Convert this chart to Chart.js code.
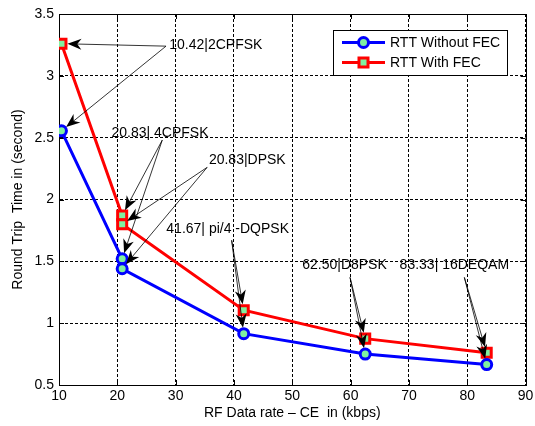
<!DOCTYPE html>
<html>
<head>
<meta charset="utf-8">
<script src="https://cdn.jsdelivr.net/npm/chart.js@4"></script>
<style>
  html, body { margin: 0; padding: 0; background: #fff; }
</style>
</head>
<body>
<canvas id="rttChart" width="535" height="426"></canvas>
<script>
const dataRate = [10.42, 20.83, 20.83, 41.67, 62.50, 83.33];
const rttWithoutFec = [2.555, 1.52, 1.44, 0.915, 0.75, 0.665];
const rttWithFec = [3.26, 1.87, 1.80, 1.105, 0.875, 0.76];
const seriesNames = ['RTT Without FEC', 'RTT With FEC'];
const modLabels = ['10.42|2CPFSK', '20.83| 4CPFSK', '20.83|DPSK', '41.67| pi/4 -DQPSK', '62.50|D8PSK', '83.33| 16DEQAM'];
const yTickValues = [0.5, 1, 1.5, 2, 2.5, 3, 3.5];
const yTickLabels = ['0.5', '1', '1.5', '2', '2.5', '3', '3.5'];

// label anchors (left/middle of text) and arrow tails, in data units
const labelAt = [[28.9, 3.25], [19.0, 2.54], [35.7, 2.32], [28.4, 1.76], [51.7, 1.47], [68.4, 1.47]];
const arrowFrom = [[28.35, 3.24], [27.7, 2.48], [35.4, 2.26], [39.6, 1.67], [59.9, 1.37], [79.5, 1.37]];

const FONT = "'Liberation Sans', Arial, sans-serif";
const faceGreen = '#80f0a0';

Chart.defaults.color = '#000';
Chart.defaults.font.family = FONT;
Chart.defaults.font.size = 14;

function drawArrow(ctx, x0, y0, x1, y1) {
    const ang = Math.atan2(y1 - y0, x1 - x0);
    // stop a bit before the marker centre
    x1 -= Math.cos(ang) * 6;
    y1 -= Math.sin(ang) * 6;
    const len = 14, half = 5.5;
    ctx.beginPath();
    ctx.moveTo(x0, y0);
    ctx.lineTo(x1 - Math.cos(ang) * len * 0.6, y1 - Math.sin(ang) * len * 0.6);
    ctx.stroke();
    ctx.save();
    ctx.translate(x1, y1);
    ctx.rotate(ang);
    ctx.beginPath();
    ctx.moveTo(0, 0);
    ctx.lineTo(-len, half);
    ctx.lineTo(-len * 0.7, 0);
    ctx.lineTo(-len, -half);
    ctx.closePath();
    ctx.fill();
    ctx.restore();
}

function marker(ctx, style, x, y, color) {
    ctx.save();
    ctx.lineWidth = 3;
    ctx.strokeStyle = color;
    ctx.fillStyle = faceGreen;
    ctx.beginPath();
    if (style === 'circle') {
        ctx.arc(x, y, 5, 0, Math.PI * 2);
    } else {
        ctx.rect(x - 4.5, y - 4.5, 9, 9);
    }
    ctx.fill();
    ctx.stroke();
    ctx.restore();
}

// box, inward ticks
const frame = {
    id: 'frame',
    beforeDatasetsDraw(chart) {
        const { ctx, chartArea: a, scales: { x, y } } = chart;
        ctx.save();
        ctx.strokeStyle = '#000';
        ctx.lineWidth = 1;
        ctx.strokeRect(Math.round(a.left) + 0.5, Math.round(a.top) + 0.5,
            Math.round(a.right - a.left), Math.round(a.bottom - a.top));
        ctx.beginPath();
        x.ticks.forEach(t => {
            const px = Math.round(x.getPixelForValue(t.value)) + 0.5;
            ctx.moveTo(px, a.bottom); ctx.lineTo(px, a.bottom - 5);
            ctx.moveTo(px, a.top); ctx.lineTo(px, a.top + 5);
        });
        y.ticks.forEach(t => {
            const py = Math.round(y.getPixelForValue(t.value)) + 0.5;
            ctx.moveTo(a.left, py); ctx.lineTo(a.left + 5, py);
            ctx.moveTo(a.right, py); ctx.lineTo(a.right - 5, py);
        });
        ctx.stroke();
        ctx.restore();
    }
};

// text labels with arrows, then legend box
const annotate = {
    id: 'annotate',
    afterDatasetsDraw(chart) {
        const { ctx, scales: { x, y } } = chart;
        ctx.save();
        ctx.fillStyle = '#000';
        ctx.strokeStyle = '#000';
        ctx.lineWidth = 0.8;
        ctx.font = '14px ' + FONT;
        ctx.textAlign = 'left';
        ctx.textBaseline = 'middle';
        modLabels.forEach((txt, i) => {
            ctx.fillText(txt, x.getPixelForValue(labelAt[i][0]), y.getPixelForValue(labelAt[i][1]));
            const tx = x.getPixelForValue(arrowFrom[i][0]);
            const ty = y.getPixelForValue(arrowFrom[i][1]);
            const px = x.getPixelForValue(dataRate[i]);
            drawArrow(ctx, tx, ty, px, y.getPixelForValue(rttWithFec[i]));
            drawArrow(ctx, tx, ty, px, y.getPixelForValue(rttWithoutFec[i]));
        });
        ctx.restore();

        // legend
        const lx = 333.5, ly = 30.5, lw = 174, lh = 45;
        ctx.save();
        ctx.fillStyle = '#fff';
        ctx.fillRect(lx, ly, lw, lh);
        ctx.strokeStyle = '#000';
        ctx.lineWidth = 1;
        ctx.strokeRect(lx, ly, lw, lh);
        chart.data.datasets.forEach((ds, i) => {
            const rowY = 42.5 + i * 20;
            ctx.strokeStyle = ds.borderColor;
            ctx.lineWidth = 3;
            ctx.beginPath();
            ctx.moveTo(342, rowY);
            ctx.lineTo(385, rowY);
            ctx.stroke();
            marker(ctx, ds.pointStyle, 363.5, rowY, ds.borderColor);
            ctx.fillStyle = '#000';
            ctx.font = '14px ' + FONT;
            ctx.textAlign = 'left';
            ctx.textBaseline = 'middle';
            ctx.fillText(ds.label, 390, rowY + 1);
        });
        ctx.restore();
    }
};

const ctx = document.getElementById('rttChart').getContext('2d');
new Chart(ctx, {
    type: 'line',
    data: {
        datasets: [{
            label: seriesNames[0],
            data: dataRate.map((v, i) => ({ x: v, y: rttWithoutFec[i] })),
            borderColor: '#0000ff',
            borderWidth: 3,
            pointStyle: 'circle',
            pointRadius: 5,
            pointBorderWidth: 3,
            pointBackgroundColor: faceGreen,
            pointBorderColor: '#0000ff',
            tension: 0
        }, {
            label: seriesNames[1],
            data: dataRate.map((v, i) => ({ x: v, y: rttWithFec[i] })),
            borderColor: '#ff0000',
            borderWidth: 3,
            pointStyle: 'rect',
            pointRadius: 6.4,
            pointBorderWidth: 3,
            pointBackgroundColor: faceGreen,
            pointBorderColor: '#ff0000',
            tension: 0
        }]
    },
    options: {
        responsive: false,
        animation: false,
        layout: { padding: { top: 14, right: 6, left: 0, bottom: 0 } },
        plugins: {
            legend: { display: false },
            tooltip: { enabled: false }
        },
        scales: {
            x: {
                type: 'linear',
                min: 10,
                max: 90,
                ticks: { stepSize: 10, padding: 3 },
                grid: { color: '#000', drawTicks: false },
                border: { color: '#000', dash: [3, 2] },
                title: {
                    display: true,
                    text: 'RF Data rate – CE  in (kbps)',
                    padding: { top: 0, bottom: 4 }
                },
                afterFit: s => { s.height = 41; s.paddingLeft = 0; s.paddingRight = 0; }
            },
            y: {
                min: 0.5,
                max: 3.5,
                ticks: {
                    stepSize: 0.5,
                    padding: 5,
                    callback: v => yTickLabels[yTickValues.indexOf(v)]
                },
                grid: { color: '#000', drawTicks: false },
                border: { color: '#000', dash: [3, 2] },
                title: {
                    display: true,
                    text: 'Round Trip  Time in (second)',
                    padding: { top: 10, bottom: 0 }
                },
                afterFit: s => { s.width = 59; s.paddingTop = 0; s.paddingBottom = 0; }
            }
        }
    },
    plugins: [frame, annotate]
});
</script>
</body>
</html>
